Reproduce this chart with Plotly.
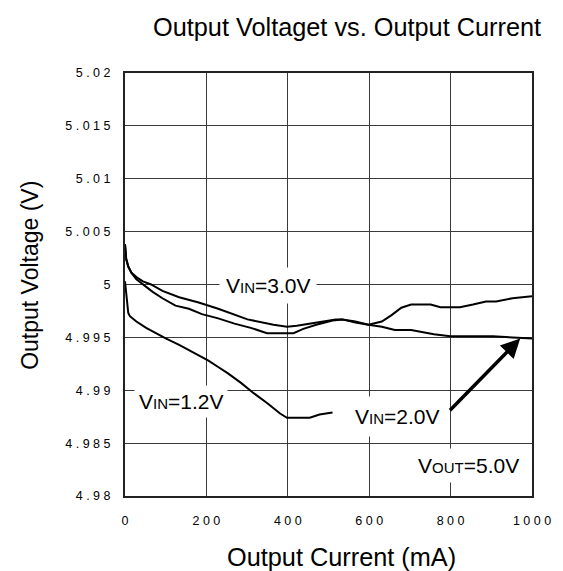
import plotly.graph_objects as go

# ---- data ----
x_a = [0, 3, 8, 16, 28, 44, 64, 92, 133, 181, 229, 277, 301, 365, 398, 422, 454, 518, 534,
       566, 598, 631, 655, 679, 703, 751, 775, 823, 855, 887, 912, 952, 1000]
y_a = [5.0038, 5.0024, 5.0017, 5.0011, 5.0007, 5.0003, 5.0000, 4.9994, 4.9988, 4.9983, 4.9977,
       4.9970, 4.9967, 4.9962, 4.9960, 4.9961, 4.9963, 4.9967, 4.9967,
       4.9964, 4.9962, 4.9965, 4.9971, 4.9978, 4.9981, 4.9981, 4.99785, 4.99785, 4.9981, 4.9984,
       4.9984, 4.9987, 4.9989]

x_b = [0, 3, 8, 16, 28, 44, 68, 92, 124, 157, 189, 229, 269, 309, 349, 414, 438, 470, 510,
       534, 566, 598, 631, 663, 703, 759, 799, 904, 952, 1000]
y_b = [5.0038, 5.0024, 5.0017, 5.0011, 5.0005, 5.0000, 4.9993, 4.9987, 4.9980, 4.9977, 4.9972,
       4.9968, 4.9963, 4.9959, 4.9954, 4.9954, 4.9958, 4.9962, 4.9966,
       4.9967, 4.9965, 4.9962, 4.9960, 4.9957, 4.9957, 4.9953, 4.9951, 4.9951, 4.9950, 4.9949]

x_c = [0, 2, 5, 8, 12, 28, 52, 76, 100, 133, 157, 189, 205, 229, 253, 285, 317, 349, 381,
       398, 454, 478, 510]
y_c = [5.0003, 4.9995, 4.9980, 4.9973, 4.9970, 4.9965, 4.9959, 4.9954, 4.9949, 4.9943, 4.9938,
       4.9932, 4.9928, 4.9922, 4.9916, 4.9907, 4.9897, 4.9888, 4.9878,
       4.9874, 4.9874, 4.9877, 4.9879]

x_ticks = [0, 200, 400, 600, 800, 1000]
x_ticktext = ["0", "2 0 0", "4 0 0", "6 0 0", "8 0 0", "1 0 0 0"]
y_ticks = [4.98, 4.985, 4.99, 4.995, 5.0, 5.005, 5.01, 5.015, 5.02]
y_ticktext = ["4 . 9 8", "4 . 9 8 5", "4 . 9 9", "4 . 9 9 5", "5", "5 . 0 0 5",
              "5 . 0 1", "5 . 0 1 5", "5 . 0 2"]

FONT = "Liberation Sans, Arial, Helvetica, sans-serif"

fig = go.Figure()
for xs, ys in [(x_a, y_a), (x_b, y_b), (x_c, y_c)]:
    fig.add_trace(go.Scatter(x=xs, y=ys, mode="lines",
                             line=dict(color="black", width=2), showlegend=False,
                             hoverinfo="skip"))

axis_common = dict(showgrid=True, gridcolor="#3a3a3a", gridwidth=1,
                   showline=True, linecolor="#222222", linewidth=2, mirror=True,
                   ticks="", zeroline=False,
                   tickfont=dict(family=FONT, size=12.5, color="black"))

fig.update_xaxes(range=[0, 1000], tickvals=x_ticks, ticktext=x_ticktext,
                 ticklabelstandoff=12, **axis_common)
fig.update_yaxes(range=[4.98, 5.02], tickvals=y_ticks, ticktext=y_ticktext,
                 ticklabelstandoff=10, **axis_common)

small = "<span style='font-size:15px'>{}</span>"
ann_font = dict(family=FONT, size=21, color="black")
annotations = [
    dict(x=352, y=4.99987, xref="x", yref="y", text="V" + small.format("IN") + "=3.0V",
         showarrow=False, font=ann_font, bgcolor="white", borderpad=6),
    dict(x=137, y=4.98890, xref="x", yref="y", text="V" + small.format("IN") + "=1.2V",
         showarrow=False, font=ann_font, bgcolor="white", borderpad=4),
    dict(x=669, y=4.98749, xref="x", yref="y", text="V" + small.format("IN") + "=2.0V",
         showarrow=False, font=ann_font, bgcolor="white", borderpad=8),
    dict(x=845, y=4.98285, xref="x", yref="y", text="V" + small.format("OUT") + "=5.0V",
         showarrow=False, font=ann_font, bgcolor="white", borderpad=5),
    dict(x=971, y=4.9949, xref="x", yref="y", ax=795, ay=4.98796, axref="x", ayref="y",
         text="", showarrow=True, arrowhead=2, arrowsize=1.1, arrowwidth=3.5,
         arrowcolor="black"),
    # titles
    dict(x=0.5446, y=1.1087, xref="paper", yref="paper", xanchor="center", yanchor="middle",
         text="Output Voltaget vs. Output Current", showarrow=False,
         font=dict(family=FONT, size=25.3, color="black")),
    dict(x=0.5325, y=-0.1442, xref="paper", yref="paper", xanchor="center", yanchor="middle",
         text="Output Current (mA)", showarrow=False,
         font=dict(family=FONT, size=25.3, color="black")),
    dict(x=-0.2337, y=0.5225, xref="paper", yref="paper", xanchor="center", yanchor="middle",
         text="Output Voltage (V)", showarrow=False, textangle=-90,
         font=dict(family=FONT, size=23, color="black")),
]

fig.update_layout(width=563, height=571,
                  margin=dict(l=125, r=23, t=73, b=75),
                  paper_bgcolor="white", plot_bgcolor="white",
                  annotations=annotations, showlegend=False)

# remove the default page margin so the figure sits at the window's top-left corner
fig.write_html("out.html",
               config={"displayModeBar": False, "staticPlot": True},
               post_script="document.body.style.margin='0px';"
                           "document.body.style.overflow='hidden';")
